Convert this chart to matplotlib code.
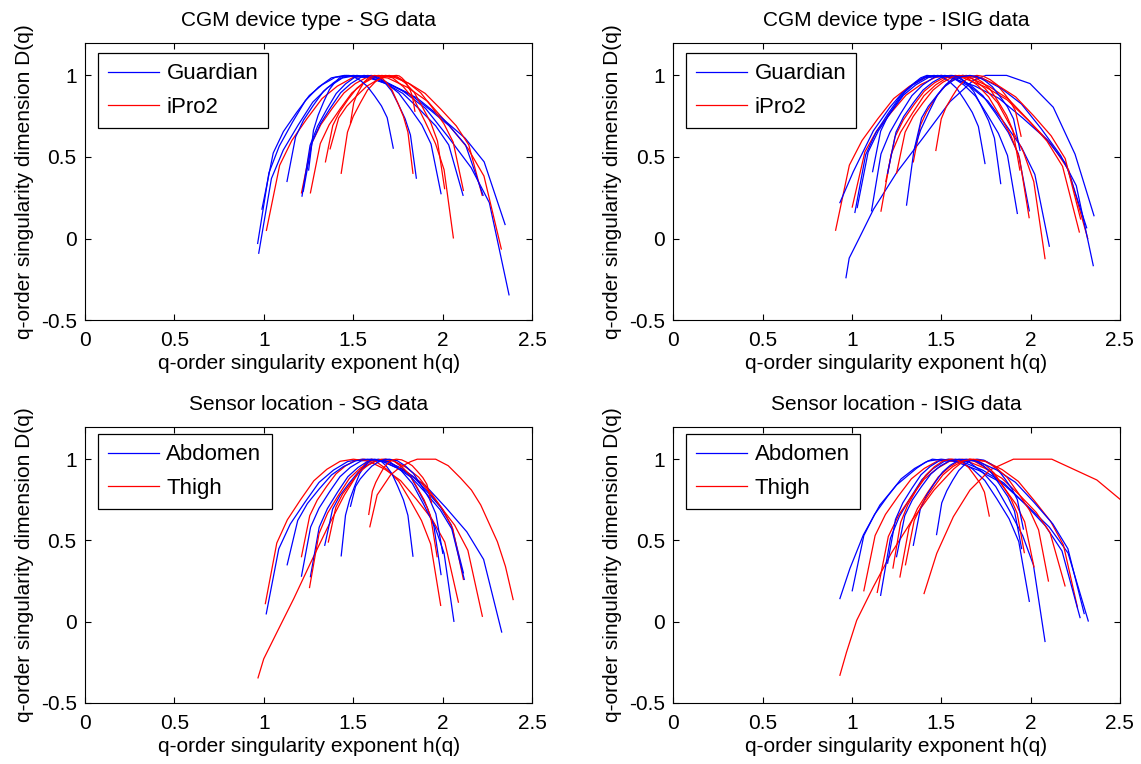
import matplotlib
matplotlib.use("Agg")
import matplotlib.pyplot as plt

plt.rcParams["font.family"] = ["Liberation Sans", "DejaVu Sans"]

# ---- shared axis setup -------------------------------------------------------
X_TICKS = [0, 0.5, 1, 1.5, 2, 2.5]
X_LABELS = ["0", "0.5", "1", "1.5", "2", "2.5"]
Y_TICKS = [-0.5, 0, 0.5, 1]
Y_LABELS = ["-0.5", "0", "0.5", "1"]
XLABEL = "q-order singularity exponent h(q)"
YLABEL = "q-order singularity dimension D(q)"

TITLES = ["CGM device type - SG data", "CGM device type - ISIG data",
          "Sensor location - SG data", "Sensor location - ISIG data"]
LEGENDS = [("Guardian", "iPro2"), ("Guardian", "iPro2"),
           ("Abdomen", "Thigh"), ("Abdomen", "Thigh")]

# ---- panel 1: CGM device type, SG ------------------------------------------
TL_BLUE_H = [
    [0.971, 1.042, 1.108, 1.191, 1.273, 1.355, 1.438, 1.52, 1.648, 1.775, 1.903, 2.03, 2.158, 2.26, 2.37],
    [0.965, 1.028, 1.086, 1.159, 1.232, 1.305, 1.377, 1.45, 1.585, 1.719, 1.854, 1.989, 2.124, 2.231, 2.348],
    [0.989, 1.052, 1.109, 1.181, 1.254, 1.326, 1.398, 1.47, 1.583, 1.697, 1.81, 1.923, 2.036, 2.127, 2.225],
    [1.129, 1.177, 1.222, 1.277, 1.333, 1.389, 1.444, 1.5, 1.592, 1.684, 1.776, 1.868, 1.96, 2.033, 2.113],
    [1.213, 1.258, 1.3, 1.352, 1.404, 1.456, 1.508, 1.56, 1.625, 1.689, 1.754, 1.818, 1.883, 1.934, 1.99],
    [1.22, 1.269, 1.315, 1.372, 1.429, 1.486, 1.543, 1.6, 1.638, 1.676, 1.713, 1.751, 1.789, 1.819, 1.852],
    [1.25, 1.277, 1.303, 1.334, 1.366, 1.397, 1.429, 1.46, 1.499, 1.539, 1.578, 1.618, 1.657, 1.689, 1.723],
]
TL_BLUE_D = [
    [-0.09, 0.368, 0.542, 0.695, 0.836, 0.924, 0.984, 1, 0.98, 0.906, 0.798, 0.623, 0.435, 0.22, -0.345],
    [-0.03, 0.403, 0.567, 0.712, 0.846, 0.928, 0.985, 1, 0.986, 0.936, 0.863, 0.744, 0.616, 0.47, 0.086],
    [0.18, 0.524, 0.656, 0.77, 0.877, 0.943, 0.988, 1, 0.989, 0.949, 0.89, 0.794, 0.691, 0.574, 0.265],
    [0.35, 0.623, 0.727, 0.818, 0.903, 0.955, 0.99, 1, 0.989, 0.949, 0.89, 0.794, 0.691, 0.574, 0.265],
    [0.26, 0.571, 0.689, 0.793, 0.889, 0.948, 0.989, 1, 0.989, 0.949, 0.891, 0.797, 0.696, 0.58, 0.275],
    [0.29, 0.588, 0.702, 0.801, 0.894, 0.95, 0.989, 1, 0.991, 0.956, 0.906, 0.824, 0.735, 0.635, 0.37],
    [0.42, 0.664, 0.756, 0.838, 0.913, 0.959, 0.991, 1, 0.993, 0.969, 0.933, 0.875, 0.813, 0.741, 0.554],
]
TL_RED_H = [
    [1.014, 1.088, 1.156, 1.24, 1.325, 1.41, 1.495, 1.58, 1.692, 1.804, 1.916, 2.028, 2.14, 2.23, 2.327],
    [1.21, 1.266, 1.318, 1.382, 1.447, 1.511, 1.576, 1.64, 1.727, 1.814, 1.901, 1.988, 2.075, 2.145, 2.22],
    [1.26, 1.315, 1.365, 1.428, 1.491, 1.554, 1.617, 1.68, 1.745, 1.81, 1.876, 1.941, 2.006, 2.058, 2.115],
    [1.344, 1.385, 1.423, 1.47, 1.518, 1.565, 1.613, 1.66, 1.72, 1.78, 1.84, 1.899, 1.959, 2.007, 2.059],
    [1.432, 1.467, 1.499, 1.539, 1.579, 1.62, 1.66, 1.7, 1.747, 1.793, 1.84, 1.886, 1.933, 1.97, 2.01],
    [1.484, 1.502, 1.518, 1.538, 1.559, 1.579, 1.6, 1.62, 1.652, 1.684, 1.716, 1.748, 1.78, 1.805, 1.833],
    [1.37, 1.418, 1.463, 1.518, 1.574, 1.629, 1.685, 1.74, 1.756, 1.771, 1.787, 1.802, 1.818, 1.83, 1.844],
]
TL_RED_D = [
    [0.05, 0.449, 0.601, 0.734, 0.858, 0.934, 0.986, 1, 0.984, 0.926, 0.84, 0.702, 0.553, 0.383, -0.064],
    [0.28, 0.582, 0.698, 0.798, 0.892, 0.95, 0.989, 1, 0.989, 0.949, 0.89, 0.794, 0.691, 0.574, 0.265],
    [0.28, 0.582, 0.698, 0.798, 0.892, 0.95, 0.989, 1, 0.989, 0.951, 0.894, 0.803, 0.704, 0.591, 0.295],
    [0.47, 0.693, 0.777, 0.852, 0.92, 0.963, 0.992, 1, 0.985, 0.93, 0.851, 0.721, 0.582, 0.422, 0.004],
    [0.4, 0.652, 0.748, 0.832, 0.91, 0.958, 0.991, 1, 0.99, 0.951, 0.896, 0.806, 0.709, 0.598, 0.306],
    [0.71, 0.832, 0.878, 0.919, 0.957, 0.98, 0.996, 1, 0.991, 0.958, 0.91, 0.832, 0.748, 0.652, 0.4],
    [0.55, 0.739, 0.811, 0.874, 0.933, 0.969, 0.993, 1, 0.997, 0.985, 0.967, 0.938, 0.908, 0.872, 0.78],
]

# ---- panel 2: CGM device type, ISIG -----------------------------------------
TR_BLUE_H = [
    [0.967, 0.985, 1.04, 1.121, 1.251, 1.40, 1.55, 1.68, 1.75, 1.866, 1.997, 2.127, 2.249, 2.355],
    [0.933, 1.008, 1.12, 1.213, 1.28, 1.344, 1.385, 1.42, 1.554, 1.688, 1.822, 1.956, 2.09, 2.198, 2.314],
    [1.017, 1.077, 1.133, 1.202, 1.272, 1.341, 1.411, 1.48, 1.574, 1.668, 1.761, 1.855, 1.949, 2.024, 2.105],
    [1.11, 1.163, 1.213, 1.274, 1.336, 1.397, 1.459, 1.52, 1.591, 1.662, 1.733, 1.804, 1.875, 1.932, 1.993],
    [1.116, 1.161, 1.202, 1.254, 1.305, 1.357, 1.408, 1.46, 1.503, 1.546, 1.588, 1.631, 1.674, 1.708, 1.745],
    [1.03, 1.091, 1.148, 1.218, 1.289, 1.359, 1.43, 1.5, 1.564, 1.628, 1.692, 1.756, 1.82, 1.871, 1.926],
    [1.306, 1.347, 1.385, 1.432, 1.479, 1.526, 1.573, 1.62, 1.73, 1.839, 1.949, 2.059, 2.168, 2.256, 2.351],
    [1.2, 1.247, 1.29, 1.344, 1.398, 1.452, 1.506, 1.56, 1.601, 1.642, 1.683, 1.724, 1.765, 1.798, 1.833],
    [1.35, 1.39, 1.428, 1.474, 1.521, 1.567, 1.614, 1.66, 1.702, 1.744, 1.786, 1.829, 1.871, 1.905, 1.941],
]
TR_BLUE_D = [
    [-0.24, -0.12, 0.0, 0.179, 0.405, 0.62, 0.84, 0.97, 1.0, 1.0, 0.95, 0.805, 0.517, 0.14],
    [0.22, 0.41, 0.66, 0.805, 0.89, 0.949, 0.985, 1, 0.986, 0.935, 0.86, 0.739, 0.608, 0.458, 0.066],
    [0.16, 0.513, 0.647, 0.765, 0.874, 0.941, 0.987, 1, 0.984, 0.927, 0.843, 0.707, 0.56, 0.393, -0.047],
    [0.17, 0.519, 0.651, 0.768, 0.876, 0.942, 0.988, 1, 0.988, 0.942, 0.876, 0.768, 0.651, 0.519, 0.17],
    [0.41, 0.658, 0.752, 0.835, 0.912, 0.959, 0.991, 1, 0.992, 0.962, 0.919, 0.849, 0.773, 0.687, 0.46],
    [0.19, 0.53, 0.66, 0.773, 0.879, 0.943, 0.988, 1, 0.987, 0.941, 0.873, 0.763, 0.645, 0.509, 0.154],
    [0.205, 0.539, 0.666, 0.777, 0.881, 0.944, 0.988, 1, 0.983, 0.918, 0.825, 0.674, 0.51, 0.324, -0.166],
    [0.4, 0.652, 0.748, 0.832, 0.91, 0.958, 0.991, 1, 0.99, 0.954, 0.9, 0.814, 0.722, 0.615, 0.337],
    [0.55, 0.739, 0.811, 0.874, 0.933, 0.969, 0.993, 1, 0.993, 0.968, 0.931, 0.871, 0.807, 0.733, 0.54],
]
TR_RED_H = [
    [0.909, 0.986, 1.057, 1.145, 1.234, 1.323, 1.411, 1.5, 1.623, 1.746, 1.869, 1.992, 2.115, 2.213, 2.32],
    [1.002, 1.073, 1.139, 1.221, 1.303, 1.386, 1.468, 1.55, 1.659, 1.767, 1.875, 1.984, 2.092, 2.179, 2.273],
    [1.163, 1.22, 1.272, 1.338, 1.403, 1.469, 1.535, 1.6, 1.672, 1.744, 1.816, 1.889, 1.961, 2.018, 2.081],
    [1.19, 1.241, 1.288, 1.346, 1.405, 1.463, 1.522, 1.58, 1.642, 1.704, 1.765, 1.827, 1.889, 1.938, 1.992],
    [1.344, 1.383, 1.418, 1.462, 1.507, 1.551, 1.596, 1.64, 1.685, 1.73, 1.775, 1.82, 1.865, 1.901, 1.94],
    [1.47, 1.5, 1.528, 1.562, 1.597, 1.631, 1.666, 1.7, 1.737, 1.774, 1.811, 1.848, 1.885, 1.915, 1.947],
    [1.25, 1.298, 1.343, 1.398, 1.454, 1.509, 1.565, 1.62, 1.719, 1.818, 1.917, 2.016, 2.115, 2.194, 2.28],
]
TR_RED_D = [
    [0.051, 0.45, 0.601, 0.734, 0.858, 0.934, 0.986, 1, 0.985, 0.93, 0.85, 0.72, 0.58, 0.42, 0.0],
    [0.193, 0.532, 0.661, 0.774, 0.879, 0.944, 0.988, 1, 0.986, 0.933, 0.856, 0.731, 0.597, 0.443, 0.04],
    [0.168, 0.517, 0.651, 0.767, 0.875, 0.942, 0.988, 1, 0.983, 0.921, 0.832, 0.686, 0.528, 0.349, -0.123],
    [0.35, 0.623, 0.727, 0.818, 0.903, 0.955, 0.99, 1, 0.987, 0.939, 0.869, 0.756, 0.634, 0.494, 0.128],
    [0.47, 0.693, 0.777, 0.852, 0.92, 0.963, 0.992, 1, 0.991, 0.959, 0.913, 0.838, 0.756, 0.664, 0.42],
    [0.54, 0.733, 0.807, 0.871, 0.931, 0.968, 0.993, 1, 0.994, 0.974, 0.944, 0.896, 0.843, 0.784, 0.627],
    [0.4, 0.652, 0.748, 0.832, 0.91, 0.958, 0.991, 1, 0.987, 0.938, 0.868, 0.754, 0.63, 0.49, 0.12],
]

# ---- panel 3: sensor location, SG -------------------------------------------
BL_BLUE_H = [
    [1.013, 1.083, 1.147, 1.228, 1.308, 1.389, 1.469, 1.55, 1.667, 1.784, 1.901, 2.017, 2.134, 2.228, 2.329],
    [1.21, 1.261, 1.308, 1.366, 1.425, 1.483, 1.542, 1.6, 1.677, 1.755, 1.832, 1.909, 1.986, 2.048, 2.115],
    [1.26, 1.309, 1.355, 1.412, 1.469, 1.526, 1.583, 1.64, 1.703, 1.767, 1.83, 1.893, 1.957, 2.007, 2.062],
    [1.34, 1.384, 1.425, 1.476, 1.527, 1.578, 1.629, 1.68, 1.727, 1.773, 1.82, 1.866, 1.913, 1.95, 1.99],
    [1.432, 1.456, 1.479, 1.507, 1.535, 1.564, 1.592, 1.62, 1.652, 1.684, 1.716, 1.748, 1.78, 1.805, 1.833],
    [1.484, 1.512, 1.538, 1.57, 1.603, 1.635, 1.668, 1.7, 1.745, 1.79, 1.835, 1.88, 1.925, 1.961, 2.0],
    [1.13, 1.189, 1.243, 1.31, 1.378, 1.445, 1.513, 1.58, 1.661, 1.742, 1.823, 1.904, 1.985, 2.05, 2.12],
]
BL_BLUE_D = [
    [0.048, 0.448, 0.6, 0.733, 0.857, 0.933, 0.986, 1, 0.984, 0.926, 0.84, 0.702, 0.553, 0.383, -0.064],
    [0.28, 0.582, 0.698, 0.798, 0.892, 0.95, 0.989, 1, 0.99, 0.951, 0.895, 0.804, 0.706, 0.594, 0.3],
    [0.277, 0.581, 0.696, 0.798, 0.892, 0.949, 0.989, 1, 0.985, 0.93, 0.85, 0.721, 0.581, 0.421, 0.002],
    [0.47, 0.693, 0.777, 0.852, 0.92, 0.963, 0.992, 1, 0.989, 0.95, 0.894, 0.801, 0.702, 0.588, 0.29],
    [0.405, 0.655, 0.75, 0.833, 0.911, 0.958, 0.991, 1, 0.991, 0.958, 0.91, 0.833, 0.749, 0.654, 0.403],
    [0.71, 0.832, 0.878, 0.919, 0.957, 0.98, 0.996, 1, 0.991, 0.959, 0.913, 0.838, 0.756, 0.664, 0.42],
    [0.35, 0.623, 0.727, 0.818, 0.903, 0.955, 0.99, 1, 0.989, 0.948, 0.889, 0.793, 0.689, 0.571, 0.26],
]
BL_RED_H = [
    [0.967, 0.999, 1.073, 1.167, 1.26, 1.353, 1.45, 1.53, 1.565, 1.6, 1.693, 1.786, 1.879, 1.973, 2.066, 2.14, 2.221],
    [1.008, 1.072, 1.131, 1.205, 1.279, 1.352, 1.426, 1.5, 1.588, 1.676, 1.764, 1.852, 1.94, 2.011, 2.087],
    [1.21, 1.256, 1.298, 1.35, 1.403, 1.455, 1.508, 1.56, 1.624, 1.688, 1.753, 1.817, 1.881, 1.932, 1.988],
    [1.255, 1.308, 1.356, 1.417, 1.478, 1.539, 1.599, 1.66, 1.728, 1.797, 1.865, 1.933, 2.001, 2.056, 2.115],
    [1.36, 1.402, 1.44, 1.488, 1.536, 1.584, 1.632, 1.68, 1.723, 1.766, 1.81, 1.853, 1.896, 1.931, 1.968],
    [1.592, 1.633, 1.708, 1.76, 1.82, 1.857, 1.96, 2.03, 2.10, 2.16, 2.212, 2.305, 2.35, 2.393],
    [1.586, 1.606, 1.625, 1.648, 1.671, 1.694, 1.717, 1.74, 1.77, 1.799, 1.829, 1.858, 1.888, 1.911, 1.937],
]
BL_RED_D = [
    [-0.346, -0.229, -0.065, 0.142, 0.36, 0.573, 0.78, 0.92, 0.97, 1, 0.985, 0.932, 0.855, 0.729, 0.594, 0.439, 0.033],
    [0.111, 0.484, 0.627, 0.751, 0.867, 0.938, 0.987, 1, 0.987, 0.938, 0.868, 0.754, 0.63, 0.49, 0.12],
    [0.4, 0.652, 0.748, 0.832, 0.91, 0.958, 0.991, 1, 0.987, 0.937, 0.865, 0.748, 0.622, 0.478, 0.1],
    [0.21, 0.542, 0.668, 0.779, 0.882, 0.945, 0.988, 1, 0.989, 0.948, 0.889, 0.793, 0.689, 0.571, 0.26],
    [0.49, 0.704, 0.786, 0.857, 0.924, 0.964, 0.992, 1, 0.991, 0.958, 0.91, 0.832, 0.748, 0.652, 0.4],
    [0.584, 0.78, 0.903, 0.95, 0.985, 1.0, 1.0, 0.96, 0.883, 0.81, 0.718, 0.492, 0.34, 0.136],
    [0.66, 0.803, 0.857, 0.905, 0.949, 0.976, 0.995, 1, 0.996, 0.981, 0.96, 0.925, 0.887, 0.845, 0.732],
]

# ---- panel 4: sensor location, ISIG -----------------------------------------
BR_BLUE_H = [
    [0.933, 0.989, 1.064, 1.157, 1.25, 1.362, 1.41, 1.45, 1.581, 1.712, 1.843, 1.974, 2.105, 2.21, 2.323],
    [1.002, 1.067, 1.127, 1.201, 1.276, 1.351, 1.425, 1.5, 1.617, 1.733, 1.85, 1.966, 2.083, 2.176, 2.277],
    [1.161, 1.216, 1.266, 1.329, 1.392, 1.454, 1.517, 1.58, 1.655, 1.73, 1.805, 1.881, 1.956, 2.016, 2.081],
    [1.2, 1.244, 1.285, 1.336, 1.387, 1.438, 1.489, 1.54, 1.608, 1.676, 1.744, 1.812, 1.88, 1.934, 1.993],
    [1.344, 1.383, 1.418, 1.462, 1.507, 1.551, 1.596, 1.64, 1.687, 1.733, 1.78, 1.826, 1.873, 1.91, 1.95],
    [1.474, 1.503, 1.531, 1.564, 1.598, 1.632, 1.666, 1.7, 1.739, 1.778, 1.817, 1.856, 1.895, 1.926, 1.96],
    [1.25, 1.296, 1.338, 1.39, 1.443, 1.495, 1.548, 1.6, 1.705, 1.81, 1.915, 2.02, 2.125, 2.209, 2.3],
]
BR_BLUE_D = [
    [0.142, 0.327, 0.533, 0.718, 0.841, 0.944, 0.98, 1, 0.985, 0.93, 0.851, 0.721, 0.582, 0.422, 0.004],
    [0.19, 0.53, 0.66, 0.773, 0.879, 0.943, 0.988, 1, 0.985, 0.932, 0.854, 0.727, 0.59, 0.435, 0.025],
    [0.162, 0.514, 0.648, 0.765, 0.874, 0.941, 0.987, 1, 0.983, 0.921, 0.832, 0.686, 0.529, 0.349, -0.122],
    [0.36, 0.629, 0.731, 0.821, 0.904, 0.955, 0.99, 1, 0.987, 0.939, 0.869, 0.755, 0.633, 0.493, 0.125],
    [0.47, 0.693, 0.777, 0.852, 0.92, 0.963, 0.992, 1, 0.992, 0.962, 0.918, 0.846, 0.769, 0.681, 0.45],
    [0.536, 0.731, 0.805, 0.87, 0.93, 0.968, 0.993, 1, 0.994, 0.97, 0.936, 0.88, 0.819, 0.751, 0.57],
    [0.4, 0.652, 0.748, 0.832, 0.91, 0.958, 0.991, 1, 0.986, 0.934, 0.858, 0.734, 0.601, 0.449, 0.05],
]
BR_RED_H = [
    [0.933, 0.97, 1.027, 1.12, 1.22, 1.34, 1.46, 1.57, 1.615, 1.66, 1.75, 1.841, 1.931, 2.021, 2.112, 2.184, 2.262],
    [1.067, 1.13, 1.188, 1.26, 1.333, 1.405, 1.478, 1.55, 1.646, 1.743, 1.839, 1.936, 2.032, 2.109, 2.193],
    [1.142, 1.204, 1.262, 1.333, 1.405, 1.477, 1.548, 1.62, 1.68, 1.74, 1.8, 1.859, 1.919, 1.967, 2.019],
    [1.269, 1.32, 1.367, 1.425, 1.484, 1.543, 1.601, 1.66, 1.706, 1.752, 1.797, 1.843, 1.889, 1.925, 1.965],
    [1.23, 1.273, 1.313, 1.362, 1.412, 1.461, 1.511, 1.56, 1.591, 1.623, 1.654, 1.685, 1.717, 1.742, 1.769],
    [1.404, 1.475, 1.568, 1.661, 1.773, 1.904, 2.119, 2.371, 2.501],
    [1.3, 1.349, 1.395, 1.452, 1.509, 1.566, 1.623, 1.68, 1.743, 1.806, 1.869, 1.932, 1.995, 2.045, 2.1],
]
BR_RED_D = [
    [-0.33, -0.188, 0.008, 0.214, 0.42, 0.63, 0.81, 0.94, 0.98, 1, 0.986, 0.936, 0.864, 0.745, 0.618, 0.472, 0.09],
    [0.19, 0.53, 0.66, 0.773, 0.879, 0.943, 0.988, 1, 0.988, 0.945, 0.883, 0.782, 0.672, 0.548, 0.22],
    [0.18, 0.524, 0.656, 0.77, 0.877, 0.943, 0.988, 1, 0.99, 0.954, 0.9, 0.814, 0.722, 0.615, 0.337],
    [0.275, 0.58, 0.696, 0.797, 0.891, 0.949, 0.989, 1, 0.991, 0.96, 0.914, 0.839, 0.759, 0.667, 0.425],
    [0.33, 0.611, 0.719, 0.812, 0.9, 0.953, 0.99, 1, 0.995, 0.976, 0.948, 0.902, 0.853, 0.797, 0.65],
    [0.173, 0.42, 0.646, 0.81, 0.934, 1.0, 1.0, 0.872, 0.753],
    [0.35, 0.623, 0.727, 0.818, 0.903, 0.955, 0.99, 1, 0.989, 0.948, 0.888, 0.79, 0.685, 0.565, 0.25],
]

PANELS = [
    (TL_BLUE_H, TL_BLUE_D, TL_RED_H, TL_RED_D),
    (TR_BLUE_H, TR_BLUE_D, TR_RED_H, TR_RED_D),
    (BL_BLUE_H, BL_BLUE_D, BL_RED_H, BL_RED_D),
    (BR_BLUE_H, BR_BLUE_D, BR_RED_H, BR_RED_D),
]

# axes rectangles in figure fractions (left, bottom, width, height)
RECTS = [
    [0.0745, 0.581, 0.392, 0.363],
    [0.590, 0.581, 0.3915, 0.363],
    [0.0745, 0.080, 0.392, 0.3615],
    [0.590, 0.080, 0.3915, 0.3615],
]
LEGEND_TOP = [0.962, 0.962, 0.972, 0.972]

BLUE = "#0000ff"
RED = "#ff0000"
FS = 15

fig = plt.figure(figsize=(11.41, 7.64), dpi=100)

for k, ((bh, bd, rh, rd), rect, title, (lab_b, lab_r)) in enumerate(
        zip(PANELS, RECTS, TITLES, LEGENDS)):
    ax = fig.add_axes(rect)
    n = max(len(bh), len(rh))
    hb = hr = None
    for i in range(n):
        if i < len(bh):
            (hb,) = ax.plot(bh[i], bd[i], color=BLUE, lw=0.9)
        if i < len(rh):
            (hr,) = ax.plot(rh[i], rd[i], color=RED, lw=0.9)
    ax.set_xlim(0, 2.5)
    ax.set_ylim(-0.5, 1.2)
    ax.set_xticks(X_TICKS)
    ax.set_xticklabels(X_LABELS)
    ax.set_yticks(Y_TICKS)
    ax.set_yticklabels(Y_LABELS)
    ax.tick_params(direction="in", top=True, right=True, length=4,
                   labelsize=FS, pad=6)
    ax.tick_params(axis="x", pad=8)
    for s in ax.spines.values():
        s.set_linewidth(0.8)
    ax.set_title(title, fontsize=FS, pad=12)
    ax.set_xlabel(XLABEL, fontsize=FS, labelpad=3)
    ax.set_ylabel(YLABEL, fontsize=FS, labelpad=5)
    leg = ax.legend([hb, hr], [lab_b, lab_r], loc="upper left",
                    bbox_to_anchor=(0.028, LEGEND_TOP[k]), borderaxespad=0,
                    fontsize=16, fancybox=False, framealpha=1,
                    edgecolor="black", handlelength=2.3, handletextpad=0.35,
                    borderpad=0.45, labelspacing=0.55)
    leg.get_frame().set_linewidth(0.9)

fig.savefig("out.png", dpi=100)
